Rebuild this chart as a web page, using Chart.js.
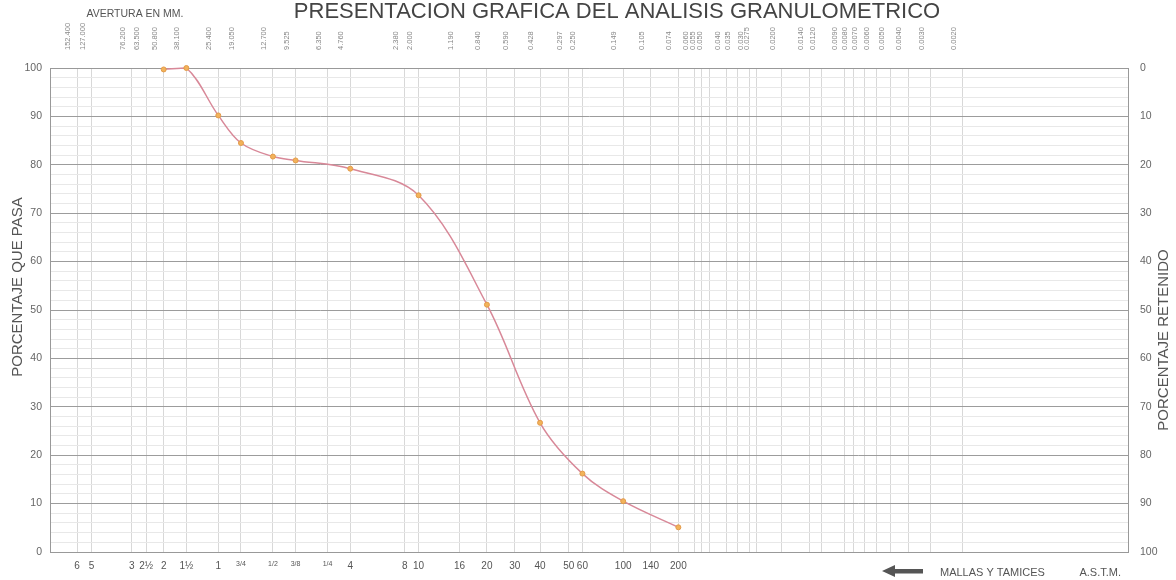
<!DOCTYPE html>
<html><head><meta charset="utf-8">
<script src="https://cdn.jsdelivr.net/npm/chart.js@4.4.1/dist/chart.umd.min.js"></script>
<style>html,body{margin:0;padding:0;background:#fff;}#wrap{width:1176px;height:580px;position:relative;}</style>
</head><body><div id="wrap"><canvas id="c" width="1176" height="580"></canvas></div>
<script>
const chartTitle = "PRESENTACION GRAFICA DEL ANALISIS GRANULOMETRICO";
const apertureTitle = "AVERTURA EN MM.";
const leftTitle = "PORCENTAJE QUE PASA";
const rightTitle = "PORCENTAJE RETENIDO";
const sieveNoteA = "MALLAS Y TAMICES";
const sieveNoteB = "A.S.T.M.";

const sieveLabels = ["6","5","3","2½","2","1½","1","3/4","1/2","3/8","1/4","4","8","10","16","20","30","40","50","60","100","140","200"];
const sieveMM = [152.4,127,76.2,63.5,50.8,38.1,25.4,19.05,12.7,9.525,6.35,4.76,2.38,2.0,1.19,0.84,0.59,0.428,0.297,0.25,0.149,0.105,0.074];

const apertureLabels = ["152.400","127.000","76.200","63.500","50.800","38.100","25.400","19.050","12.700","9.525","6.350","4.760","2.380","2.000","1.190","0.840","0.590","0.428","0.297","0.250","0.149","0.105","0.074","0.060","0.055","0.050","0.040","0.035","0.030","0.0275","0.0200","0.0140","0.0120","0.0090","0.0080","0.0070","0.0060","0.0050","0.0040","0.0030","0.0020"];
const apertureMM = apertureLabels.map(parseFloat);

const sampleMM = [50.8,38.1,25.4,19.05,12.7,9.525,4.76,2.0,0.84,0.428,0.25,0.149,0.074];
const samplePassing = [99.7,100,90.2,84.5,81.7,80.9,79.2,73.7,51.1,26.7,16.2,10.5,5.1];

const percentTicks = [0,10,20,30,40,50,60,70,80,90,100];

const FONT = '"Liberation Sans", Arial, sans-serif';
Chart.defaults.font.family = FONT;

const X_MAX = 215, X_MIN = 0.000246;

const textPlugin = {
  id: 'texts',
  afterDraw(chart) {
    const ctx = chart.ctx;
    ctx.save();
    ctx.fillStyle = '#444';
    ctx.textAlign = 'center';
    ctx.textBaseline = 'alphabetic';
    ctx.font = '22px ' + FONT;
    ctx.fillText(chartTitle, 617, 18);
    ctx.fillStyle = '#555';
    ctx.font = '10.5px ' + FONT;
    ctx.fillText(apertureTitle, 135, 17);
    // axis titles
    ctx.font = '15px ' + FONT;
    ctx.fillStyle = '#555';
    ctx.textBaseline = 'middle';
    ctx.save(); ctx.translate(18, 287); ctx.rotate(-Math.PI/2); ctx.fillText(leftTitle, 0, 0); ctx.restore();
    ctx.save(); ctx.translate(1164, 340); ctx.rotate(-Math.PI/2); ctx.fillText(rightTitle, 0, 0); ctx.restore();
    // bottom note
    ctx.font = '11px ' + FONT;
    ctx.textAlign = 'left';
    ctx.textBaseline = 'alphabetic';
    ctx.fillText(sieveNoteA, 940, 576);
    ctx.textAlign = 'right';
    ctx.fillText(sieveNoteB, 1121, 576);
    // arrow
    ctx.fillStyle = '#555';
    ctx.beginPath();
    ctx.moveTo(882, 571); ctx.lineTo(895, 565); ctx.lineTo(895, 569);
    ctx.lineTo(923, 569); ctx.lineTo(923, 573.5); ctx.lineTo(895, 573.5);
    ctx.lineTo(895, 577); ctx.closePath(); ctx.fill();
    ctx.restore();
  }
};

new Chart(document.getElementById('c'), {
  type: 'line',
  data: {
    datasets: [{
      data: sampleMM.map((m, i) => ({x: m, y: samplePassing[i]})),
      borderColor: '#d88898',
      borderWidth: 1.5,
      tension: 0.35,
      pointRadius: 2.5,
      pointBackgroundColor: '#f2b35a',
      pointBorderColor: '#e39a4a',
      pointBorderWidth: 1,
      clip: 6,
      xAxisID: 'x',
      yAxisID: 'y'
    }]
  },
  options: {
    responsive: false,
    animation: false,
    devicePixelRatio: 1,
    layout: {padding: 0},
    plugins: {legend: {display: false}, title: {display: false}, tooltip: {enabled: false}},
    scales: {
      x: {
        type: 'logarithmic', position: 'bottom', reverse: true, min: X_MIN, max: X_MAX,
        afterBuildTicks: s => { s.ticks = sieveMM.map(v => ({value: v})); },
        afterFit: s => { s.height = 28; },
        ticks: {
          autoSkip: false, maxRotation: 0, minRotation: 0, padding: 0, color: '#555',
          font: c => ({size: (sieveLabels[c.index] || '').includes('/') ? 7 : 10}),
          callback: (v, i) => sieveLabels[i]
        },
        grid: {display: false},
        border: {display: true, color: '#999', width: 1}
      },
      x2: {
        type: 'logarithmic', position: 'top', reverse: true, min: X_MIN, max: X_MAX,
        afterBuildTicks: s => { s.ticks = apertureMM.map(v => ({value: v})); },
        afterFit: s => { s.height = 68; },
        ticks: {
          autoSkip: false, maxRotation: 90, minRotation: 90, padding: 18, color: '#888',
          font: {size: 7.5},
          callback: (v, i) => apertureLabels[i]
        },
        grid: {display: true, color: '#d8d8d8', lineWidth: 1, drawTicks: false},
        border: {display: true, color: '#999', width: 1}
      },
      y: {
        type: 'linear', position: 'left', min: 0, max: 100,
        afterBuildTicks: s => {
          const t = [];
          percentTicks.forEach((p, i) => {
            t.push({value: p});
            if (i < percentTicks.length - 1) { for (let k = 2; k < 10; k += 2) t.push({value: p + k}); }
          });
          s.ticks = t;
        },
        afterFit: s => { s.width = 50; },
        ticks: {
          autoSkip: false, padding: 8, color: '#666', font: {size: 10.5},
          callback: v => (percentTicks.includes(v) ? String(v) : '')
        },
        grid: {
          drawTicks: false,
          color: c => (c.tick && percentTicks.includes(c.tick.value) ? '#9c9c9c' : '#e8e8e8'),
          lineWidth: 1
        },
        border: {display: true, color: '#999', width: 1}
      },
      y2: {
        type: 'linear', position: 'right', min: 0, max: 100, reverse: true,
        afterBuildTicks: s => { s.ticks = percentTicks.map(v => ({value: v})); },
        afterFit: s => { s.width = 48; },
        ticks: {autoSkip: false, padding: 12, color: '#666', font: {size: 10.5}},
        grid: {drawOnChartArea: false, drawTicks: false},
        border: {display: true, color: '#999', width: 1}
      }
    }
  },
  plugins: [textPlugin]
});
</script>
</body></html>
